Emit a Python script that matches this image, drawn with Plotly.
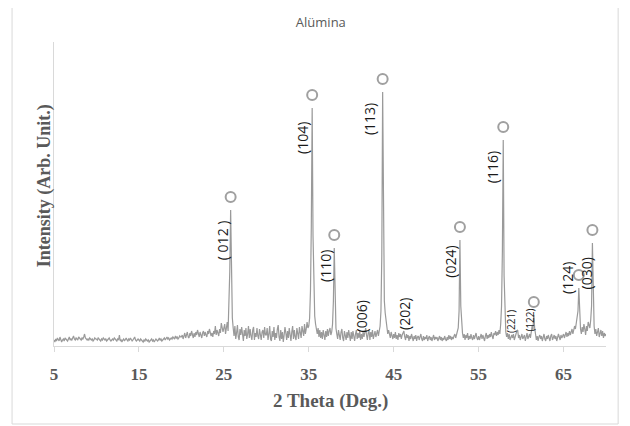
import numpy as np
import plotly.graph_objects as go

# ---- XRD intensity (0.1 deg steps, 5.0 -> 70.0) ----
seg_05 = [6, 4, 7, 5, 8, 6, 5, 9, 6, 4, 6, 7, 5, 8, 7, 6, 5, 7, 9, 6, 7, 6, 8, 10, 7, 6, 8, 7, 6, 9,
          8, 7, 6, 8, 7, 9, 12, 8, 7, 6, 7, 6, 8, 7, 6, 7, 5, 6, 8, 7]
seg_10 = [7, 6, 8, 7, 6, 5, 7, 6, 8, 7, 6, 7, 5, 6, 7, 8, 6, 5, 6, 7, 6, 8, 7, 6, 5, 7, 6, 11, 5, 6,
          4, 6, 7, 5, 6, 8, 6, 5, 7, 6, 8, 7, 5, 6, 7, 9, 6, 5, 6, 7]
seg_15 = [6, 5, 7, 6, 5, 4, 6, 5, 7, 6, 5, 6, 4, 5, 6, 7, 5, 6, 4, 5, 7, 6, 5, 6, 8, 6, 7, 5, 6, 7,
          8, 6, 7, 9, 7, 8, 6, 7, 8, 7, 9, 8, 7, 10, 8, 9, 7, 8, 10, 9]
seg_20 = [9, 11, 7, 10, 13, 8, 11, 14, 9, 8, 13, 10, 15, 10, 8, 13, 9, 14, 11, 16, 12, 9, 14, 10, 8,
          13, 15, 10, 14, 11, 9, 15, 12, 17, 12, 10, 13, 9, 15, 12, 20, 11, 16, 12, 10, 17, 13, 23, 17, 14]
seg_25 = [18, 22, 12, 19, 24, 15, 40, 75, 136, 62, 28, 18, 10, 20, 7, 13, 21, 9, 6, 17, 11, 19, 8, 5, 16,
          10, 18, 7, 12, 20, 8, 17, 10, 6, 16, 19, 6, 13, 9, 18, 10, 7, 17, 12, 6, 14, 16, 8, 19, 11]
seg_30 = [11, 18, 6, 12, 20, 7, 5, 15, 9, 19, 6, 13, 8, 17, 21, 9, 5, 16, 7, 14, 4, 11, 19, 13, 6,
          15, 8, 18, 10, 5, 14, 20, 7, 16, 9, 6, 18, 12, 7, 19, 13, 8, 20, 14, 10, 22, 12, 17, 24, 18]
seg_35 = [20, 28, 55, 120, 238, 110, 42, 30, 22, 17, 12, 18, 9, 16, 8, 14, 7, 16, 11, 6,
          15, 9, 17, 10, 15, 18, 11, 14, 22, 45, 98, 38, 18, 12, 7, 16, 9, 6, 14, 17,
          8, 5, 15, 10, 6, 14, 8, 16, 10, 5]
seg_40 = [14, 7, 15, 9, 5, 12, 16, 7, 13, 8, 15, 6, 12, 7, 14, 9, 17, 18, 11, 6,
          13, 15, 6, 14, 9, 16, 7, 12, 15, 9, 12, 16, 10, 17, 20, 35, 90, 254, 105, 45,
          33, 24, 17, 12, 16, 10, 8, 14, 9, 7]
seg_45 = [12, 8, 14, 7, 11, 6, 13, 9, 12, 7, 11, 13, 15, 9, 6, 12, 8, 11, 5, 10,
          7, 12, 8, 5, 10, 7, 11, 5, 9, 10, 6, 9, 12, 7, 5, 10, 6, 9, 7, 11,
          5, 8, 10, 6, 9, 5, 8, 11, 6, 9]
seg_50 = [7, 9, 5, 8, 10, 6, 9, 5, 8, 6, 10, 7, 5, 9, 6, 11, 7, 10, 6, 9,
          7, 10, 12, 8, 11, 14, 18, 35, 106, 40, 20, 13, 8, 12, 6, 11, 8, 13, 6, 10,
          7, 12, 8, 6, 11, 7, 10, 13, 8, 6]
seg_55 = [10, 6, 9, 12, 7, 11, 8, 5, 10, 13, 7, 11, 8, 12, 9, 14, 10, 7, 13, 11,
          15, 10, 14, 11, 16, 12, 22, 40, 95, 206, 70, 25, 14, 9, 13, 7, 12, 6, 10, 11,
          8, 12, 6, 10, 13, 15, 16, 8, 11, 6]
seg_60 = [9, 12, 7, 10, 11, 5, 9, 13, 7, 10, 12, 8, 14, 20, 16, 31, 18, 10, 6, 10,
          5, 9, 11, 7, 10, 5, 9, 12, 7, 5, 10, 7, 11, 8, 5, 10, 12, 6, 9, 11,
          7, 10, 5, 9, 12, 9, 6, 11, 8, 10]
seg_65 = [12, 8, 11, 14, 9, 13, 10, 15, 11, 14, 17, 12, 16, 20, 17, 22, 28, 35, 58, 26,
          17, 12, 19, 14, 22, 17, 11, 20, 15, 24, 20, 18, 26, 40, 103, 38, 20, 12, 17, 10,
          15, 18, 9, 14, 16, 10, 15, 8, 13, 10]
seg_70 = [12]

intensity = (seg_05 + seg_10 + seg_15 + seg_20 + seg_25 + seg_30 + seg_35 + seg_40
             + seg_45 + seg_50 + seg_55 + seg_60 + seg_65 + seg_70)
theta_start, theta_step = 5.0, 0.1
two_theta = np.round(theta_start + theta_step * np.arange(len(intensity)), 1)

# peaks marked with a circle (alpha-Al2O3)
peak_theta = [25.8, 35.4, 38.0, 43.7, 52.8, 57.9, 61.5, 66.8, 68.4]

# Miller index labels and where they sit
hkl_labels = ["( 012 )", "(104)", "(110)", "(006)", "(113)", "(202)",
              "(024)", "(116)", "(221)", "(122)", "(124)", "(030)"]
hkl_x = [24.8, 34.2, 36.9, 41.2, 42.1, 46.2, 51.6, 56.6, 58.8, 61.0, 65.4, 67.7]
hkl_y = [106, 208, 80, 30, 227, 32, 84, 179, 25, 26, 68, 73]
hkl_size = [14, 14, 14, 14, 14, 14, 14, 14, 10, 10, 14, 14]

x_ticks = [5, 15, 25, 35, 45, 55, 65]

lookup = dict(zip(two_theta.tolist(), intensity))
circle_offset = 13
circle_y = [lookup[round(t, 1)] + circle_offset for t in peak_theta]

fig = go.Figure()
fig.add_trace(go.Scatter(x=two_theta, y=intensity, mode="lines",
                         line=dict(color="#9a9a9a", width=1.2), hoverinfo="skip",
                         showlegend=False))
fig.add_trace(go.Scatter(x=peak_theta, y=circle_y, mode="markers",
                         marker=dict(symbol="circle-open", size=10, color="#a0a0a0",
                                     line=dict(width=2, color="#a0a0a0")),
                         showlegend=False))

for lab, lx, ly, fs in zip(hkl_labels, hkl_x, hkl_y, hkl_size):
    fig.add_annotation(x=lx, y=ly, text=lab, textangle=-90, showarrow=False,
                       xanchor="center", yanchor="middle",
                       font=dict(family="Open Sans", size=fs, color="#1a1a1a"))

axis_font = dict(family="Liberation Serif", size=17, color="#595959")

fig.add_annotation(xref="paper", yref="paper", x=-0.018, y=0.526,
                   text="<b>Intensity (Arb. Unit.)</b>", textangle=-90, showarrow=False,
                   xanchor="center", yanchor="middle",
                   font=dict(family="Liberation Serif", size=18, color="#595959"))
fig.add_annotation(xref="paper", yref="paper", x=0.5, y=-0.181,
                   text="<b>2 Theta (Deg.)</b>", showarrow=False,
                   xanchor="center", yanchor="middle",
                   font=dict(family="Liberation Serif", size=19, color="#595959"))

fig.add_shape(type="rect", xref="paper", yref="paper",
              x0=-0.076, x1=1.022, y0=-0.2566, y1=1.1349,
              line=dict(color="#d9d9d9", width=1), fillcolor="rgba(0,0,0,0)")

# page body has an 8px margin, so the figure is sized/offset to compensate
fig.update_layout(
    width=622, height=418,
    margin=dict(l=46, r=24, t=34, b=80),
    paper_bgcolor="white", plot_bgcolor="white",
    title=dict(text="Alümina", x=0.503, xref="container", y=0.9665, yref="container",
               xanchor="center", yanchor="middle",
               font=dict(family="Open Sans", size=13, color="#595959")),
    xaxis=dict(range=[5, 70], tickvals=x_ticks,
               ticktext=["<b>%d</b>" % t for t in x_ticks],
               showgrid=False, zeroline=False, showline=True, linecolor="#d9d9d9",
               linewidth=1, ticks="outside", ticklen=5, tickcolor="#d9d9d9",
               tickfont=axis_font, ticklabelstandoff=8),
    yaxis=dict(range=[0, 304], showgrid=False, zeroline=False, showline=True,
               linecolor="#d9d9d9", linewidth=1, showticklabels=False, ticks=""),
)

fig.write_html("out.html")
